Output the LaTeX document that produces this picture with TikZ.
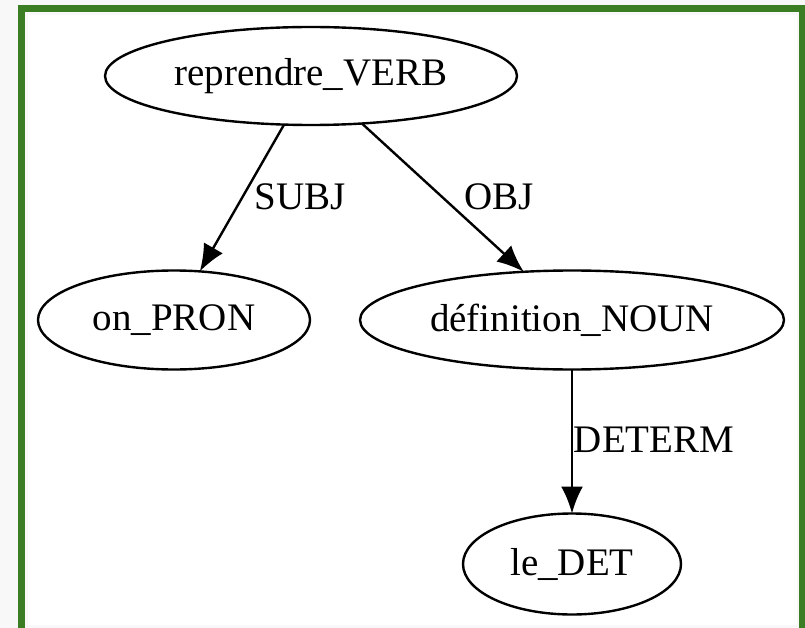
\documentclass[tikz,border=0pt]{standalone}
\usepackage{fontspec}
\setmainfont{Liberation Serif}
\usetikzlibrary{arrows.meta,shapes.geometric}
\definecolor{frameg}{RGB}{58,125,35}
\definecolor{pageg}{RGB}{248,248,248}
\begin{document}
\begin{tikzpicture}[x=1pt,y=-1pt,
  tok/.style={draw=black, line width=2.4pt, ellipse, inner sep=0pt, outer sep=0pt, font=\fontsize{39}{47}\selectfont},
  dep/.style={draw=black, line width=2.4pt, -{Latex[length=27pt,width=22pt]}},
  lab/.style={font=\fontsize{39}{47}\selectfont, inner sep=0pt}]
\useasboundingbox (0,0) rectangle (805,628);
\fill[pageg] (0,0) rectangle (805,628);
\fill[frameg] (18,5) rectangle (805,628);
\fill[pageg] (25,12) rectangle (799,628);
\fill[white] (28,15) rectangle (797,625);

\node[tok, minimum width=412pt, minimum height=98pt] (verb) at (311,76) {reprendre\_VERB};
\node[tok, minimum width=272pt, minimum height=99pt] (pron) at (174,320) {on\_PRON};
\node[tok, minimum width=424pt, minimum height=99pt] (noun) at (572,320) {définition\_NOUN};
\node[tok, minimum width=218pt, minimum height=101pt] (det) at (572,564) {le\_DET};

\draw[dep] (verb.241) -- (pron.62);
\draw[dep] (verb.317) -- (noun.135);
\draw[dep] (noun.south) -- (det.north);

\node[lab] (lsubj) at (300,197) {SUBJ};
\node[lab] (lobj) at (499,197) {OBJ};
\node[lab] (ldeterm) at (654,440) {DETERM};
\end{tikzpicture}
\end{document}
